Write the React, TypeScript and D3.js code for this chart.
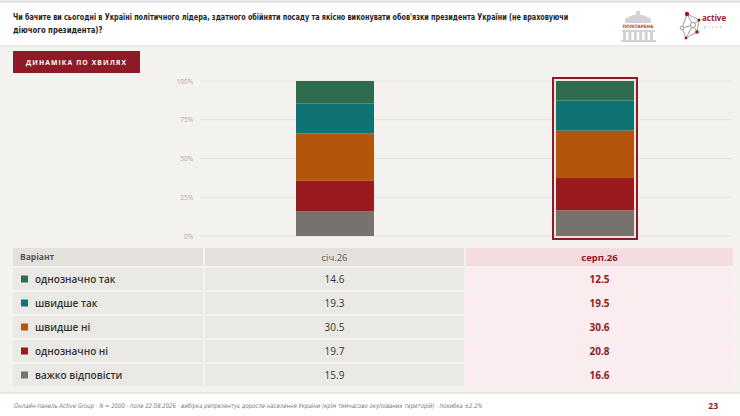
import * as d3 from "d3";

const waves = ["січ.26", "серп.26"];
const categories = ["однозначно так", "швидше так", "швидше ні", "однозначно ні", "важко відповісти"];
const colors = ["#2f6b4e", "#0f7373", "#b3550b", "#9a1a1d", "#77726d"];
const valuesJan = [14.6, 19.3, 30.5, 19.7, 15.9];
const valuesAug = [12.5, 19.5, 30.6, 20.8, 16.6];
const yTicks = [0, 25, 50, 75, 100];

const title1 =
  "Чи бачите ви сьогодні в Україні політичного лідера, здатного обійняти посаду та якісно виконувати обов'язки президента України (не враховуючи";
const title2 = "діючого президента)?";
const footer =
  "Онлайн-панель Active Group · N = 2000 · поле 22.08.2026 · вибірка репрезентує доросле населення України (крім тимчасово окупованих територій) · похибка ±2.2%";

const W = 740;
const H = 416;
const RED = "#8c1b27";
const narrow = "'Liberation Sans Narrow', 'DejaVu Sans Condensed', sans-serif";
const body = "'Open Sans', 'Noto Sans', sans-serif";

export default function App() {
  const rows = waves.map((w, i) => {
    const vals = i === 0 ? valuesJan : valuesAug;
    const r: Record<string, number | string> = { wave: w };
    categories.forEach((c, k) => (r[c] = vals[k]));
    return r;
  });
  // bottom-to-top order is the reverse of the table order
  const keys = [...categories].reverse();
  const stack = d3.stack<Record<string, number | string>>().keys(keys);
  const series = stack(rows as any);

  const x = d3.scalePoint<string>().domain(waves).range([335, 595]);
  const y = d3.scaleLinear().domain([0, 100]).range([236, 81]);
  const barW = 78;
  const color = d3.scaleOrdinal<string, string>().domain(categories).range(colors);

  // table layout
  const colX = [13, 205, 466];
  const colW = [190, 259, 267];
  const headY = 248;
  const headH = 18;
  const rowY = (i: number) => 268 + i * 24;
  const rowH = 22;

  const last = waves[waves.length - 1];

  return (
    <>
      <style>{"body{margin:0}"}</style>
      <svg width={W} height={H} style={{ display: "block" }}>
        <rect width={W} height={H} fill="#f4f2ee" />
        {/* header */}
        <rect width={W} height={3} fill="#e6e6e6" />
        <rect y={3} width={W} height={42} fill="#ffffff" />
        <rect y={45} width={W} height={1.5} fill="#e9e7e3" />
        {/* condensed title: the narrow font isn't there, so squeeze horizontally */}
        <g transform="translate(13,20) scale(0.8,1)">
          <text x={0} y={0} fontFamily={narrow} fontWeight={700} fontSize={9} fill="#1f1f1f">
            {title1}
          </text>
        </g>
        <g transform="translate(13,33) scale(0.86,1)">
          <text x={0} y={0} fontFamily={narrow} fontWeight={700} fontSize={9} fill="#1f1f1f">
            {title2}
          </text>
        </g>

        {/* Politarena logo */}
        <g fill="#d3d3d3">
          <path d="M625,23 L625,19 Q638,10 651,19 L651,23 Z" />
          <rect x={636} y={11} width={4} height={4} />
          <rect x={622} y={30} width={33} height={2} />
          {d3.range(6).map((i) => (
            <rect key={i} x={623 + i * 5.4} y={32} width={3} height={8} />
          ))}
          <rect x={621} y={40} width={35} height={2} />
        </g>
        <text x={638} y={28} textAnchor="middle" fontFamily={narrow} fontWeight={700} fontSize={4.6} fill="#c0392b">
          ПОЛІТАРЕНА
        </text>

        {/* Active group logo */}
        <g stroke="#888" strokeWidth={0.8} fill="none">
          <path d="M687,14 L699,20 L697,32 L686,38 L682,28 Z" />
          <path d="M687,14 L693,25 L697,32 M693,25 L682,28 M693,25 L699,20 M686,38 L693,25" />
          <circle cx={693} cy={25} r={2.6} fill="#fff" />
          <circle cx={682} cy={28} r={1.8} fill="#fff" />
        </g>
        <circle cx={687} cy={14} r={2.2} fill="#9a1a1d" />
        <circle cx={699} cy={20} r={1.6} fill="#9a1a1d" />
        <circle cx={697} cy={32} r={1.8} fill="#9a1a1d" />
        <circle cx={686} cy={38} r={1.4} fill="#9a1a1d" />
        <text x={702} y={21} fontFamily={body} fontWeight={700} fontSize={8} fill="#9a1a1d">
          active
        </text>
        <text x={704} y={28} fontFamily={body} fontSize={3.2} letterSpacing={2.2} fill="#999">
          group
        </text>

        {/* button */}
        <rect x={13} y={51} width={127} height={22} fill={RED} />
        <text x={76.5} y={65} textAnchor="middle" fontFamily={body} fontWeight={700} fontSize={6.8} letterSpacing={1.1} fill="#fff">
          ДИНАМІКА ПО ХВИЛЯХ
        </text>

        {/* grid and y axis */}
        {yTicks.map((t) => (
          <g key={t}>
            <line x1={200} x2={732} y1={y(t)} y2={y(t)} stroke="#e6e3de" strokeWidth={1} />
            <text x={193} y={y(t) + 2.5} textAnchor="end" fontFamily={body} fontSize={6.5} fill="#aaa">
              {t}%
            </text>
          </g>
        ))}

        {/* bars */}
        {series.map((s) => (
          <g key={s.key} fill={color(s.key)}>
            {s.map((d) => (
              <rect
                key={String(d.data.wave)}
                x={x(String(d.data.wave))! - barW / 2}
                y={y(d[1])}
                width={barW}
                height={y(d[0]) - y(d[1])}
              />
            ))}
          </g>
        ))}

        {/* highlight frame on last wave */}
        <rect
          x={x(last)! - barW / 2 - 1}
          y={y(100) - 1}
          width={barW + 2}
          height={y(0) - y(100) + 2}
          fill="none"
          stroke="#e9dcdc"
          strokeWidth={1.2}
        />
        <rect
          x={x(last)! - barW / 2 - 3}
          y={y(100) - 3}
          width={barW + 6}
          height={y(0) - y(100) + 6}
          fill="none"
          stroke={RED}
          strokeWidth={2}
        />

        {/* table header */}
        <rect x={colX[0]} y={headY} width={colW[0]} height={headH} fill="#e4e1dc" />
        <rect x={colX[1]} y={headY} width={colW[1]} height={headH} fill="#e4e1dc" />
        <rect x={colX[2]} y={headY} width={colW[2]} height={headH} fill="#f3dde1" />
        <text x={20} y={headY + 12} fontFamily={body} fontWeight={700} fontSize={8.5} fill="#555">
          Варіант
        </text>
        {waves.map((w, i) => (
          <text
            key={w}
            x={colX[i + 1] + colW[i + 1] / 2}
            y={headY + 12.5}
            textAnchor="middle"
            fontFamily={body}
            fontWeight={i === waves.length - 1 ? 700 : 400}
            fontSize={9.5}
            fill={i === waves.length - 1 ? RED : "#555"}
          >
            {w}
          </text>
        ))}

        {/* table rows */}
        {categories.map((c, k) => {
          const ry = rowY(k);
          return (
            <g key={c}>
              <rect x={colX[0]} y={ry} width={colW[0]} height={rowH} fill="#ebe9e5" />
              <rect x={colX[1]} y={ry} width={colW[1]} height={rowH} fill="#ebe9e5" />
              <rect x={colX[2]} y={ry} width={colW[2]} height={rowH} fill="#fbedef" />
              <rect x={21} y={ry + 7.5} width={7} height={7} fill={color(c)} />
              <text x={35} y={ry + 14.5} fontFamily={body} fontWeight={600} fontSize={10} fill="#333">
                {c}
              </text>
              <text x={colX[1] + colW[1] / 2} y={ry + 14.5} textAnchor="middle" fontFamily={body} fontSize={10} fill="#333">
                {valuesJan[k].toFixed(1)}
              </text>
              <text x={colX[2] + colW[2] / 2} y={ry + 14.5} textAnchor="middle" fontFamily={body} fontWeight={700} fontSize={10} fill={RED}>
                {valuesAug[k].toFixed(1)}
              </text>
            </g>
          );
        })}

        {/* footer */}
        <rect y={392} width={W} height={2} fill="#e7e5e1" />
        <rect y={394} width={W} height={22} fill="#ffffff" />
        <g transform="translate(14,408) scale(0.95,1)">
          <text x={0} y={0} fontFamily={narrow} fontStyle="italic" fontSize={6.3} fill="#777">
            {footer}
          </text>
        </g>
        <text x={718} y={409} textAnchor="end" fontFamily={body} fontWeight={700} fontSize={8.5} fill={RED}>
          23
        </text>
      </svg>
    </>
  );
}
